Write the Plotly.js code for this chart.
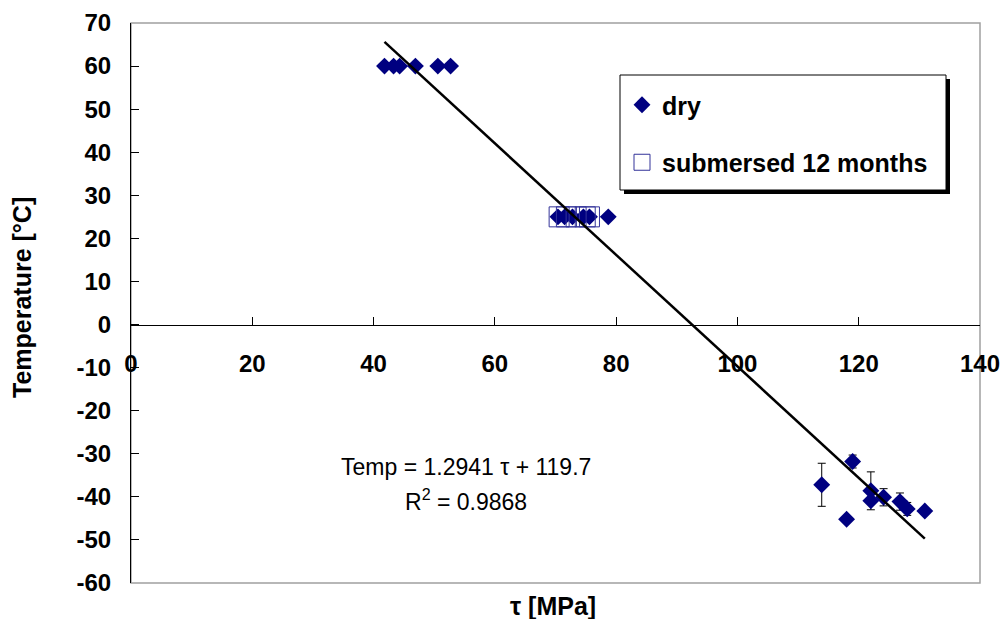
<!DOCTYPE html>
<html>
<head>
<meta charset="utf-8">
<script src="https://cdn.plot.ly/plotly-3.0.1.min.js"></script>
<style>
  html, body { margin: 0; padding: 0; background: #fff; }
  #chart { width: 1005px; height: 619px; }
</style>
</head>
<body>
<div id="chart"></div>
<script>
// Shear strength (tau, MPa) versus test temperature (°C)
const dryTau  = [41.8, 43.3, 44.3, 46.9, 50.6, 52.7,
                 70.4, 71.5, 72.8, 74.6, 75.6, 78.7,
                 113.9, 119.0, 118.0, 122.0, 122.0, 124.1, 126.8, 128.0, 130.9];
const dryTemp = [60, 60, 60, 60, 60, 60,
                 25, 25, 25, 25, 25, 25,
                 -37.2, -31.8, -45.2, -38.6, -40.9, -40.1, -41.1, -42.8, -43.3];
const dryErr  = [0, 0, 0, 0, 0, 0,
                 0, 0, 0, 0, 0, 0,
                 5.0, 1.5, 0, 4.4, 0, 2.0, 2.0, 1.5, 0];

const subTau  = [70.6, 71.8, 73.4, 74.9, 75.6];
const subTemp = [25, 25, 25, 25, 25];

// Linear fit: Temp = fitSlope * tau + fitIntercept
const fitSlope = -1.2941;
const fitIntercept = 119.7;
const fitR2 = 0.9868;

const xTicks = [0, 20, 40, 60, 80, 100, 120, 140];
const yTicks = [-60, -50, -40, -30, -20, -10, 0, 10, 20, 30, 40, 50, 60, 70];

const allTau = dryTau.concat(subTau);
const fitX = [Math.min(...allTau), Math.max(...allTau)];
const fitY = fitX.map(t => fitSlope * t + fitIntercept);

const FONT = 'Arial, "Liberation Sans", Helvetica, sans-serif';
const NAVY = '#000080';

const traces = [
  {
    x: dryTau, y: dryTemp, name: 'dry', type: 'scatter', mode: 'markers',
    legendgroup: 'a',
    marker: { symbol: 'diamond', size: 13, color: NAVY, line: { width: 0 } },
    error_y: { type: 'data', array: dryErr, visible: true, color: '#000', thickness: 1, width: 4 }
  },
  {
    x: subTau, y: subTemp, name: 'submersed 12 months', type: 'scatter', mode: 'markers',
    legendgroup: 'b',
    marker: { symbol: 'square-open', size: 20, color: '#333399', line: { width: 1, color: '#333399' } }
  },
  {
    x: fitX, y: fitY, type: 'scatter', mode: 'lines', showlegend: false,
    line: { color: '#000', width: 2.5 }, hoverinfo: 'skip'
  }
];

// helpers for paper coordinates of the plot frame
const L = 131, R = 980, T = 23, B = 583;
const px = v => (v - L) / (R - L);
const py = v => (B - v) / (B - T);

const layout = {
  width: 1005, height: 619,
  margin: { l: L, r: 1005 - R, t: T, b: 619 - B, pad: 0 },
  paper_bgcolor: '#fff', plot_bgcolor: '#fff',
  font: { family: FONT, color: '#000' },
  showlegend: true,
  xaxis: {
    range: [0, 140], tickvals: xTicks, ticktext: xTicks.map(String),
    anchor: 'free', position: 60 / 130,
    showline: true, linecolor: '#000', linewidth: 1,
    ticks: 'inside', ticklen: 8, tickcolor: '#000', tickwidth: 1,
    ticklabelstandoff: 18,
    showgrid: false, zeroline: false,
    tickfont: { family: FONT, size: 24, color: '#000', weight: 'bold' }
  },
  yaxis: {
    range: [-60, 70], tickvals: yTicks, ticktext: yTicks.map(String),
    showline: true, linecolor: '#000', linewidth: 1,
    ticks: 'inside', ticklen: 8, tickcolor: '#000', tickwidth: 1,
    ticklabelstandoff: 14,
    showgrid: false, zeroline: false,
    tickfont: { family: FONT, size: 24, color: '#000', weight: 'bold' }
  },
  legend: {
    x: px(622), y: py(82), xanchor: 'left', yanchor: 'top',
    bgcolor: 'rgba(0,0,0,0)', borderwidth: 0,
    traceorder: 'grouped', tracegroupgap: 22,
    font: { family: FONT, size: 25, color: '#000', weight: 'bold' }
  },
  shapes: [
    // plot frame
    { type: 'rect', xref: 'paper', yref: 'paper', x0: 0, x1: 1, y0: 0, y1: 1,
      line: { color: '#a0a0a0', width: 1.5 }, layer: 'below' },
    // legend box shadow and box
    { type: 'rect', xref: 'paper', yref: 'paper', x0: px(624), x1: px(950), y0: py(194), y1: py(79),
      fillcolor: '#000', line: { width: 0 }, layer: 'above' },
    { type: 'rect', xref: 'paper', yref: 'paper', x0: px(620), x1: px(946), y0: py(190), y1: py(75),
      fillcolor: '#fff', line: { color: '#000', width: 1 }, layer: 'above' }
  ],
  annotations: [
    { text: 'Temp = ' + Math.abs(fitSlope).toFixed(4) + ' τ + ' + fitIntercept,
      x: 55.3, y: -33.1, xref: 'x', yref: 'y', showarrow: false,
      font: { family: FONT, size: 23, color: '#000' } },
    { text: 'R<sup>2</sup> = ' + fitR2.toFixed(4),
      x: 55.3, y: -40.8, xref: 'x', yref: 'y', showarrow: false,
      font: { family: FONT, size: 23, color: '#000' } },
    { text: 'τ [MPa]', xref: 'paper', yref: 'paper', x: 0.497, y: 0,
      xanchor: 'center', yanchor: 'top', yshift: -7, showarrow: false,
      font: { family: FONT, size: 25, color: '#000', weight: 'bold' } },
    { text: 'Temperature [°C]', xref: 'paper', yref: 'paper', x: 0, y: 0.5,
      xanchor: 'center', yanchor: 'middle', xshift: -109, yshift: 5, textangle: -90,
      showarrow: false,
      font: { family: FONT, size: 25, color: '#000', weight: 'bold' } }
  ]
};

Plotly.newPlot('chart', traces, layout, { displayModeBar: false, staticPlot: true });
</script>
</body>
</html>
